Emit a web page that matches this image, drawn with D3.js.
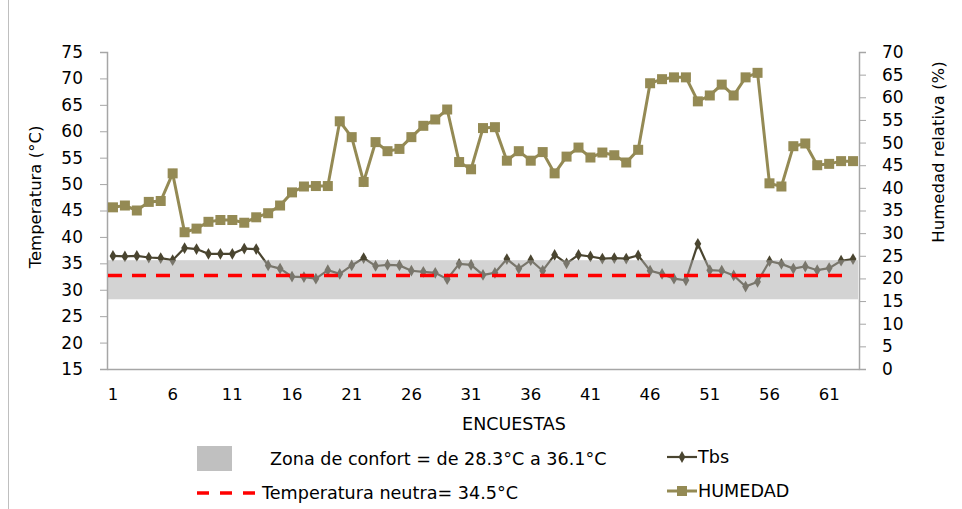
<!DOCTYPE html>
<html>
<head>
<meta charset="utf-8">
<script src="https://cdn.jsdelivr.net/npm/d3@7"></script>
<style>
  body { margin: 0; background: #fff; }
  svg { display: block; font-family: "DejaVu Sans", sans-serif; }
</style>
</head>
<body>
<svg id="chart"></svg>
<script>
// survey numbers 1..63
const encuestas = d3.range(1, 64);
// dry bulb temperature (°C)
const tbs = [36.4, 36.3, 36.4, 36.1, 36.0, 35.6, 37.9, 37.7, 36.8, 36.8, 36.8, 37.8, 37.7, 34.6, 34.0, 32.5,
  32.4, 32.1, 33.7, 33.0, 34.6, 36.0, 34.5, 34.7, 34.6, 33.6, 33.4, 33.2, 32.0, 34.9, 34.7, 32.8,
  33.2, 35.8, 34.0, 35.6, 33.6, 36.6, 35.0, 36.6, 36.3, 35.9, 36.0, 35.9, 36.5,
  33.6, 33.0, 32.1, 31.8, 38.7, 33.7, 33.6, 32.7, 30.6, 31.5, 35.4, 34.9, 34.0, 34.4, 33.7, 34.1, 35.5, 35.8];
// relative humidity (%)
const humedad = [35.7, 36.1, 35.0, 36.9, 37.1, 43.2, 30.2, 31.0, 32.5, 32.9, 32.9, 32.3, 33.5, 34.4, 36.1, 39.0,
  40.3, 40.4, 40.4, 54.7, 51.2, 41.3, 50.1, 48.1, 48.6, 51.2, 53.7, 55.1, 57.3, 45.7, 44.1, 53.2,
  53.4, 46.0, 48.1, 46.0, 47.9, 43.2, 46.9, 48.9, 46.7, 47.8, 47.2, 45.6, 48.4,
  63.1, 64.0, 64.4, 64.4, 59.1, 60.4, 62.8, 60.4, 64.4, 65.4, 41.0, 40.3, 49.2, 49.8, 45.0, 45.3, 45.9, 45.9];
const xTicks = [1, 6, 11, 16, 21, 26, 31, 36, 41, 46, 51, 56, 61];
const tempTicks = d3.range(15, 76, 5);
const humTicks = d3.range(0, 71, 5);
// comfort band and neutral line as drawn in the picture
const zonaConfort = [28.2, 35.6];
const tempNeutra = 32.7;

const W = 962, H = 509;
const mLeft = 107, mRight = 859, mTop = 52, mBottom = 369;

const svg = d3.select("#chart").attr("width", W).attr("height", H);

const x = d3.scaleBand().domain(encuestas).range([mLeft, mRight]);
const cx = d => x(d) + x.bandwidth() / 2;
const yT = d3.scaleLinear().domain([15, 75]).range([mBottom, mTop]);
const yH = d3.scaleLinear().domain([0, 70]).range([mBottom, mTop]);

// chart frame line
svg.append("line").attr("x1", 8.5).attr("x2", 8.5).attr("y1", 0).attr("y2", H)
  .attr("stroke", "#bfbfbf").attr("stroke-width", 1);

// axes
const axisColor = "#a6a6a6";
const gL = svg.append("g").attr("transform", `translate(${mLeft},0)`)
  .call(d3.axisLeft(yT).tickValues(tempTicks).tickSize(7).tickPadding(17));
const gR = svg.append("g").attr("transform", `translate(${mRight},0)`)
  .call(d3.axisRight(yH).tickValues(humTicks).tickSize(7).tickPadding(16));
[gL, gR].forEach(g => {
  g.select(".domain").attr("stroke", axisColor).attr("stroke-width", 1.5);
  g.selectAll(".tick line").attr("stroke", axisColor);
  g.selectAll(".tick text").attr("fill", "#000").style("font-size", "17px").style("font-family", "DejaVu Sans");
});

const gX = svg.append("g").attr("transform", `translate(0,${mBottom})`)
  .call(d3.axisBottom(x).tickValues(xTicks).tickSize(0).tickPadding(19));
gX.select(".domain").attr("stroke", axisColor).attr("stroke-width", 1.5);
gX.selectAll(".tick text").attr("fill", "#000").style("font-size", "16.5px").style("font-family", "DejaVu Sans");

// axis titles
svg.append("text").attr("transform", `translate(41,197) rotate(-90)`)
  .attr("text-anchor", "middle").style("font-size", "16.5px").text("Temperatura (°C)");
svg.append("text").attr("transform", `translate(944,152) rotate(-90)`)
  .attr("text-anchor", "middle").style("font-size", "16.5px").text("Humedad relativa (%)");
svg.append("text").attr("x", 514).attr("y", 430).attr("text-anchor", "middle")
  .style("font-size", "17.5px").text("ENCUESTAS");

// humidity series
const humColor = "#948a54";
svg.append("path").datum(humedad)
  .attr("fill", "none").attr("stroke", humColor).attr("stroke-width", 3)
  .attr("d", d3.line().x((d, i) => cx(encuestas[i])).y(d => yH(d)));
svg.append("g").selectAll("rect").data(humedad).join("rect")
  .attr("x", (d, i) => cx(encuestas[i]) - 5).attr("y", d => yH(d) - 5)
  .attr("width", 10).attr("height", 10).attr("fill", humColor);

// temperature series
const tbsColor = "#4a4530";
svg.append("path").datum(tbs)
  .attr("fill", "none").attr("stroke", tbsColor).attr("stroke-width", 2.2)
  .attr("d", d3.line().x((d, i) => cx(encuestas[i])).y(d => yT(d)));
const diamond = d3.symbol().type(d3.symbolDiamond).size(40);
svg.append("g").selectAll("path").data(tbs).join("path")
  .attr("transform", (d, i) => `translate(${cx(encuestas[i])},${yT(d)})`)
  .attr("d", diamond).attr("fill", tbsColor);

// comfort zone (semi-transparent, on top of the series)
svg.append("rect")
  .attr("x", mLeft + 1).attr("width", mRight - mLeft - 2)
  .attr("y", yT(zonaConfort[1])).attr("height", yT(zonaConfort[0]) - yT(zonaConfort[1]))
  .attr("fill", "#a8a8a8").attr("opacity", 0.5);

// neutral temperature line
svg.append("line")
  .attr("x1", mLeft + 1).attr("x2", mRight - 10)
  .attr("y1", yT(tempNeutra)).attr("y2", yT(tempNeutra))
  .attr("stroke", "#ff0000").attr("stroke-width", 3.5).attr("stroke-dasharray", "14,10");

// legend
const lg = svg.append("g").style("font-size", "17.6px");
lg.append("rect").attr("x", 197).attr("y", 446).attr("width", 35).attr("height", 25).attr("fill", "#c0c0c0");
lg.append("text").attr("x", 270).attr("y", 465).text("Zona de confort = de 28.3°C a 36.1°C");
lg.append("line").attr("x1", 197).attr("x2", 256).attr("y1", 493).attr("y2", 493)
  .attr("stroke", "#ff0000").attr("stroke-width", 3.5).attr("stroke-dasharray", "12,11");
lg.append("text").attr("x", 262).attr("y", 499).text("Temperatura neutra= 34.5°C");

lg.append("line").attr("x1", 667).attr("x2", 697).attr("y1", 457).attr("y2", 457)
  .attr("stroke", tbsColor).attr("stroke-width", 2.2);
lg.append("path").attr("transform", "translate(682,457)").attr("d", diamond).attr("fill", tbsColor);
lg.append("text").attr("x", 698).attr("y", 463).text("Tbs");

lg.append("line").attr("x1", 667).attr("x2", 697).attr("y1", 491).attr("y2", 491)
  .attr("stroke", humColor).attr("stroke-width", 3);
lg.append("rect").attr("x", 677).attr("y", 486).attr("width", 10).attr("height", 10).attr("fill", humColor);
lg.append("text").attr("x", 698).attr("y", 497).text("HUMEDAD");
</script>
</body>
</html>
